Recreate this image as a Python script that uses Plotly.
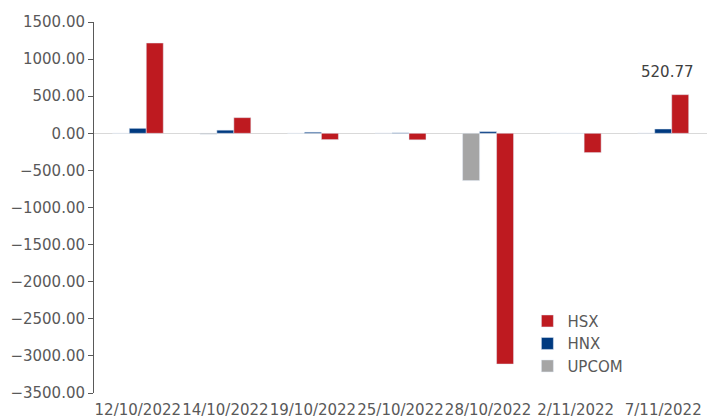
import plotly.graph_objects as go

categories = ["12/10/2022", "14/10/2022", "19/10/2022", "25/10/2022", "28/10/2022", "2/11/2022", "7/11/2022"]
upcom = [0, -12, 0, 3, -637, 0, 3]
hnx = [67, 42, 15, 6, 23, 0, 58]
hsx = [1217, 211, -85, -88, -3110, -260, 520.77]
y_ticks = [1500, 1000, 500, 0, -500, -1000, -1500, -2000, -2500, -3000, -3500]

FONT = "DejaVu Sans, Liberation Sans, sans-serif"
TXT = "#595959"

fig = go.Figure()
fig.add_trace(go.Bar(name="UPCOM", x=categories, y=upcom, marker_color="#A5A5A5"))
fig.add_trace(go.Bar(name="HNX", x=categories, y=hnx, marker_color="#003A80"))
fig.add_trace(go.Bar(name="HSX", x=categories, y=hsx, marker_color="#BE1A20"))

fig.add_annotation(x=categories[-1], y=hsx[-1], xref="x", yref="y",
                   text=f"{hsx[-1]:.2f}", showarrow=False, yanchor="bottom",
                   yshift=12, xshift=4, font=dict(family=FONT, size=15, color="#404040"))

fig.update_layout(
    width=719, height=420,
    margin=dict(l=94, r=12, t=22, b=27, pad=0),
    paper_bgcolor="white", plot_bgcolor="white",
    barmode="group", bargap=0.418, bargroupgap=0,
    font=dict(family=FONT, size=15, color=TXT),
    showlegend=True,
    legend=dict(x=0.707, y=0.238, xanchor="left", yanchor="top",
                traceorder="reversed", itemwidth=30, tracegroupgap=0,
                font=dict(family=FONT, size=15, color=TXT),
                bgcolor="rgba(0,0,0,0)"),
)
fig.update_yaxes(range=[-3500, 1500], tickvals=y_ticks, tickformat=".2f",
                 showgrid=False, zeroline=True, zerolinecolor="#D9D9D9", zerolinewidth=1,
                 showline=True, linecolor="#595959", linewidth=1, automargin=False,
                 ticks="outside", ticklen=5, tickcolor="#595959")
fig.update_xaxes(showgrid=False, showline=False, zeroline=False, automargin=False,
                 ticks="outside", ticklen=3, tickcolor="rgba(0,0,0,0)", tickangle=0)

fig.write_html("out.html")
